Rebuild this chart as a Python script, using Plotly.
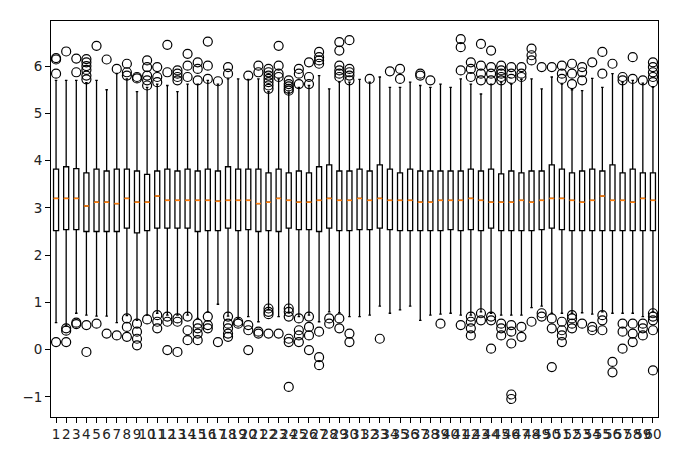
import plotly.graph_objects as go

positions = list(range(1, 61))

q3 = [3.82, 3.87, 3.83, 3.74, 3.82, 3.78, 3.82, 3.82, 3.78, 3.71,
      3.78, 3.82, 3.78, 3.82, 3.78, 3.82, 3.78, 3.87, 3.82, 3.82,
      3.82, 3.74, 3.82, 3.74, 3.78, 3.74, 3.87, 3.91, 3.78, 3.78,
      3.82, 3.78, 3.91, 3.82, 3.74, 3.82, 3.78, 3.78, 3.78, 3.78,
      3.78, 3.82, 3.78, 3.82, 3.72, 3.78, 3.74, 3.78, 3.78, 3.91,
      3.82, 3.74, 3.78, 3.82, 3.78, 3.91, 3.74, 3.82, 3.74, 3.74]

median = [3.20, 3.20, 3.20, 3.04, 3.12, 3.12, 3.09, 3.20, 3.12, 3.12,
          3.25, 3.16, 3.16, 3.16, 3.16, 3.16, 3.14, 3.16, 3.16, 3.16,
          3.09, 3.12, 3.20, 3.16, 3.12, 3.12, 3.16, 3.20, 3.16, 3.16,
          3.20, 3.16, 3.20, 3.16, 3.16, 3.16, 3.12, 3.12, 3.16, 3.16,
          3.16, 3.20, 3.16, 3.12, 3.12, 3.12, 3.16, 3.12, 3.16, 3.20,
          3.20, 3.16, 3.12, 3.16, 3.25, 3.16, 3.16, 3.12, 3.20, 3.16]

q1 = [2.52, 2.54, 2.54, 2.50, 2.50, 2.50, 2.50, 2.57, 2.47, 2.52,
      2.57, 2.57, 2.57, 2.57, 2.50, 2.52, 2.52, 2.57, 2.52, 2.54,
      2.50, 2.52, 2.50, 2.57, 2.54, 2.54, 2.50, 2.57, 2.52, 2.52,
      2.54, 2.54, 2.57, 2.54, 2.52, 2.52, 2.52, 2.52, 2.52, 2.54,
      2.52, 2.54, 2.52, 2.57, 2.52, 2.52, 2.52, 2.52, 2.54, 2.57,
      2.54, 2.52, 2.52, 2.52, 2.52, 2.52, 2.52, 2.52, 2.52, 2.52]

whisker_hi = [5.70, 5.70, 5.70, 5.65, 5.70, 5.50, 5.84, 5.73, 5.46, 5.55,
              5.62, 5.59, 5.46, 5.62, 5.62, 5.70, 5.62, 5.73, 5.73, 5.72,
              5.73, 5.46, 5.73, 5.45, 5.55, 5.59, 5.80, 5.52, 5.66, 5.66,
              5.72, 5.66, 5.77, 5.55, 5.55, 5.66, 5.59, 5.55, 5.62, 5.55,
              5.73, 5.62, 5.41, 5.62, 5.66, 5.62, 5.72, 5.73, 5.52, 5.77,
              5.62, 5.50, 5.48, 5.74, 5.55, 5.84, 5.66, 5.70, 5.64, 5.55]

whisker_lo = [0.57, 0.50, 0.77, 0.73, 0.71, 0.71, 0.57, 0.72, 0.62, 0.73,
              0.77, 0.73, 0.73, 0.73, 0.66, 0.80, 0.96, 0.71, 0.66, 0.70,
              0.59, 0.84, 0.70, 0.78, 0.70, 0.73, 0.59, 0.80, 0.78, 0.70,
              0.70, 0.73, 0.92, 0.77, 0.84, 0.92, 0.62, 0.73, 0.75, 0.77,
              0.73, 0.73, 0.80, 0.77, 0.73, 0.73, 0.73, 0.89, 0.92, 0.77,
              0.77, 0.77, 0.78, 0.75, 0.80, 0.77, 0.77, 0.77, 0.70, 0.80]

outliers_hi = [
    [6.17, 6.14, 5.84], [6.31], [6.16, 5.87], [6.15, 6.08, 6.00, 5.92, 5.80, 5.72],
    [6.43], [6.14], [5.94], [6.05, 5.87, 5.80],
    [5.77, 5.74], [6.12, 5.98, 5.80, 5.70, 5.59], [5.98, 5.77, 5.66], [6.45, 5.87],
    [5.91, 5.84, 5.77, 5.70], [6.26, 6.01, 5.77], [6.08, 5.94, 5.70], [6.52, 6.01, 5.73],
    [5.68], [5.98, 5.84], [], [5.80],
    [6.01, 5.87], [5.94, 5.87, 5.80, 5.73, 5.66, 5.59, 5.52], [6.43, 6.01, 5.84, 5.77],
    [5.70, 5.62, 5.57, 5.52, 5.48],
    [5.94, 5.84, 5.62], [6.08, 5.77, 5.62], [6.30, 6.19, 6.12, 6.05], [],
    [6.51, 6.33, 6.01, 5.91, 5.84, 5.77], [6.55, 5.94, 5.87, 5.80, 5.70], [], [5.73],
    [], [5.89], [5.94, 5.73], [],
    [5.84, 5.80], [5.70], [], [],
    [6.57, 6.40, 5.91], [6.08, 5.94, 5.77], [6.47, 6.01, 5.84, 5.70], [6.33, 5.98, 5.84, 5.70],
    [6.01, 5.91, 5.84, 5.77, 5.70], [5.98, 5.84, 5.73], [5.98, 5.84, 5.77], [6.37, 6.23, 6.12],
    [5.98], [5.98], [6.01, 5.84, 5.73], [6.05, 5.84, 5.62],
    [5.98, 5.87, 5.70], [6.08], [6.30, 5.84], [6.05],
    [5.77, 5.70], [6.19, 5.73], [5.70], [6.08, 5.98, 5.87, 5.77, 5.66],
]

outliers_lo = [
    [0.16], [0.45, 0.40, 0.16], [0.57, 0.54], [0.52, -0.05],
    [0.55], [0.34], [0.30], [0.66, 0.48, 0.27],
    [0.55, 0.38, 0.23, 0.09], [0.64], [0.73, 0.59, 0.45], [0.70, 0.59, -0.01],
    [0.66, 0.59, -0.05], [0.70, 0.41, 0.20], [0.55, 0.45, 0.34, 0.20], [0.70, 0.52, 0.45],
    [0.16], [0.70, 0.55, 0.45, 0.34, 0.27], [0.59, 0.55], [0.52, 0.41, -0.01],
    [0.38, 0.34], [0.87, 0.80, 0.75, 0.34], [0.34], [0.87, 0.80, 0.70, 0.23, 0.16, -0.79],
    [0.66, 0.41, 0.30, 0.16], [0.70, 0.48, 0.30, -0.01], [0.38, -0.16, -0.33], [0.66, 0.55],
    [0.66, 0.45], [0.34, 0.16], [], [],
    [0.23], [], [], [],
    [], [], [0.55], [],
    [0.52], [0.70, 0.59, 0.45, 0.30], [0.77, 0.62], [0.70, 0.62, 0.02],
    [0.55, 0.45, 0.30], [0.52, 0.38, 0.13, -0.95, -1.045], [0.48, 0.27], [0.59],
    [0.77, 0.70], [0.66, 0.45, -0.37], [0.59, 0.41, 0.30, 0.16], [0.73, 0.66, 0.55, 0.45],
    [0.55], [0.48, 0.41], [0.73, 0.62, 0.41], [-0.26, -0.48],
    [0.55, 0.38, 0.02], [0.55, 0.34, 0.16], [0.55, 0.45, 0.30], [0.77, 0.70, 0.62, 0.41, -0.44],
]

y_ticks = [-1, 0, 1, 2, 3, 4, 5, 6]

BOX_W = 0.5

fig = go.Figure()

fig.add_trace(go.Box(
    x=positions, q1=q1, median=median, q3=q3,
    lowerfence=whisker_lo, upperfence=whisker_hi,
    width=BOX_W, whiskerwidth=0.5,
    boxpoints=False,
    line=dict(color="black", width=1.3),
    fillcolor="rgba(0,0,0,0)",
    showlegend=False, hoverinfo="skip",
))

# orange medians
mx, my = [], []
for p, m in zip(positions, median):
    mx += [p - BOX_W / 2, p + BOX_W / 2, None]
    my += [m, m, None]
fig.add_trace(go.Scatter(x=mx, y=my, mode="lines",
                         line=dict(color="#ff7f0e", width=1.6),
                         showlegend=False, hoverinfo="skip"))

# fliers
fx, fy = [], []
for p, hi, lo in zip(positions, outliers_hi, outliers_lo):
    for v in hi + lo:
        fx.append(p)
        fy.append(v)
fig.add_trace(go.Scatter(x=fx, y=fy, mode="markers",
                         marker=dict(symbol="circle-open", size=9,
                                     color="black", line=dict(width=1.2)),
                         showlegend=False, hoverinfo="skip"))

axis_common = dict(showline=True, linecolor="black", linewidth=1, mirror=True,
                   showgrid=False, zeroline=False, ticks="outside",
                   ticklen=5, tickwidth=1, tickcolor="black",
                   tickfont=dict(family="DejaVu Sans", size=13.5, color="#222222"))

fig.update_layout(
    width=680, height=462,
    margin=dict(l=51, r=22, t=21, b=45),
    paper_bgcolor="white", plot_bgcolor="white",
    xaxis=dict(range=[0.5, 60.5], tickmode="array", tickvals=positions,
               ticktext=[str(p) for p in positions], tickangle=0, **axis_common),
    yaxis=dict(range=[-1.426, 6.955], tickmode="array", tickvals=y_ticks,
               ticktext=["\u22121" if t < 0 else str(t) for t in y_ticks], **axis_common),
)

fig.write_html("out.html")
